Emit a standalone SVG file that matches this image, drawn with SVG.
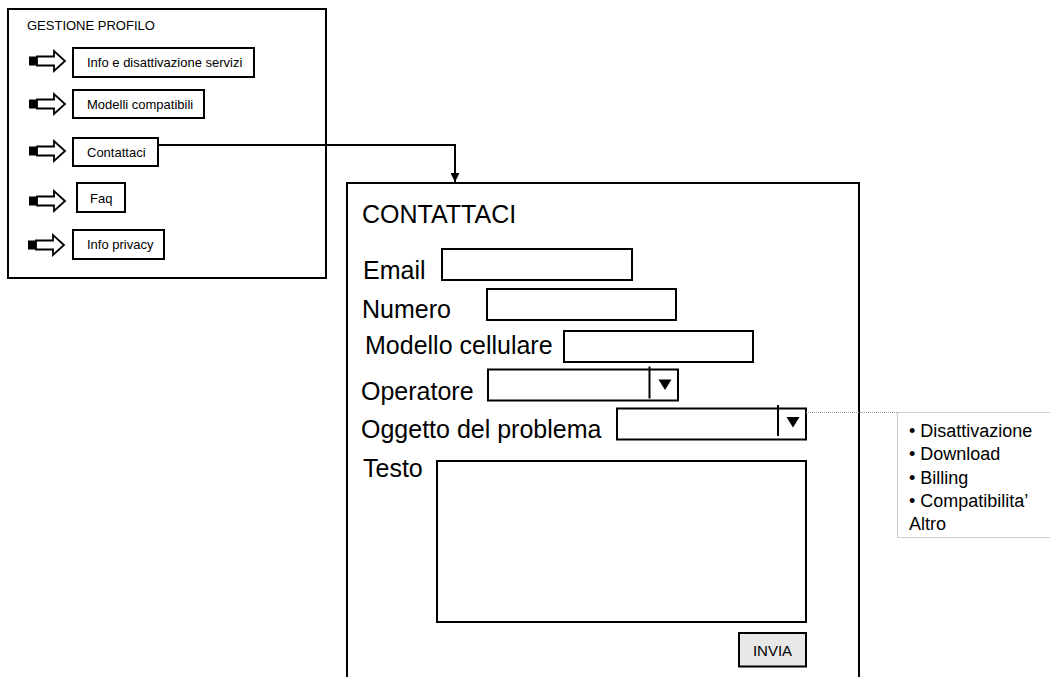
<svg xmlns="http://www.w3.org/2000/svg" width="1050" height="677" viewBox="0 0 1050 677">
<style>
  text { font-family: "Liberation Sans", Arial, sans-serif; fill: #000; }
  .frame { fill: #fff; stroke: #000; stroke-width: 2; }
  .box { fill: #fff; stroke: #000; stroke-width: 2; }
  .btn { font-size: 13px; }
  .lbl { font-size: 25px; }
  .list { font-size: 18px; }
  .dot { fill: none; stroke: #9a9a9a; stroke-width: 1; stroke-dasharray: 1 1; }
  .conn { fill: none; stroke: #000; stroke-width: 2; }
</style>
<defs>
  <g id="blockArrow">
    <rect x="0" y="-4.5" width="8" height="9" fill="#000"/>
    <path d="M8,-4.5 H25 V-10 L36,0 L25,10 V4.5 H8 Z" fill="#fff" stroke="#000" stroke-width="1.8" stroke-linejoin="miter"/>
  </g>
  <marker id="arrowDown" viewBox="0 0 10 10" refX="10" refY="5" markerWidth="4.5" markerHeight="4.5" markerUnits="strokeWidth" orient="auto">
    <path d="M0,0 L10,5 L0,10 Z" fill="#000"/>
  </marker>
  <path id="dropTri" d="M0,0 H13 L6.5,10.5 Z" fill="#000"/>
</defs>

<g id="gestione-profilo">
  <rect class="frame" x="8" y="9" width="318" height="269"/>
  <text x="27" y="30" font-size="13">GESTIONE PROFILO</text>
</g>

<g id="btn-info-servizi">
  <use href="#blockArrow" x="29" y="61"/>
  <rect class="box" x="73" y="48" width="181" height="29"/>
  <text class="btn" x="87" y="67">Info e disattivazione servizi</text>
</g>
<g id="btn-modelli">
  <use href="#blockArrow" x="29" y="104"/>
  <rect class="box" x="73" y="90" width="131" height="28"/>
  <text class="btn" x="87" y="109">Modelli compatibili</text>
</g>
<g id="btn-contattaci">
  <use href="#blockArrow" x="29" y="151"/>
  <rect class="box" x="73" y="138" width="85" height="28"/>
  <text class="btn" x="87" y="157">Contattaci</text>
</g>
<g id="btn-faq">
  <use href="#blockArrow" x="29" y="201"/>
  <rect class="box" x="77" y="183" width="48" height="29"/>
  <text class="btn" x="90" y="203">Faq</text>
</g>
<g id="btn-privacy">
  <use href="#blockArrow" x="28" y="245"/>
  <rect class="box" x="73" y="230" width="91" height="29"/>
  <text class="btn" x="87" y="249">Info privacy</text>
</g>

<g id="form-contattaci">
  <rect class="frame" x="347" y="183" width="512" height="510"/>
  <text x="362" y="223" font-size="25">CONTATTACI</text>

  <text class="lbl" x="363" y="279">Email</text>
  <rect class="box" x="442" y="249" width="190" height="31"/>

  <text class="lbl" x="362" y="318">Numero</text>
  <rect class="box" x="487" y="289" width="189" height="31"/>

  <text class="lbl" x="365" y="354">Modello cellulare</text>
  <rect class="box" x="564" y="331" width="189" height="31"/>

  <text class="lbl" x="361" y="400">Operatore</text>
  <rect class="box" x="488" y="369.5" width="190" height="31"/>
  <line x1="649.5" y1="366.5" x2="649.5" y2="398.5" stroke="#000" stroke-width="2"/>
  <use href="#dropTri" x="658.5" y="379.5"/>

  <text class="lbl" x="361" y="438">Oggetto del problema</text>
  <rect class="box" x="617" y="408.5" width="189" height="31"/>
  <line x1="778" y1="405" x2="778" y2="436" stroke="#000" stroke-width="2"/>
  <use href="#dropTri" x="786.5" y="417"/>

  <text class="lbl" x="363" y="477">Testo</text>
  <rect class="box" x="437" y="461" width="369" height="161"/>

  <rect x="739" y="633" width="67" height="33.5" fill="#e8e8e8" stroke="#000" stroke-width="2"/>
  <text x="772.5" y="655.5" font-size="15" text-anchor="middle">INVIA</text>
</g>

<g id="lista-oggetto">
  <rect class="dot" x="897.5" y="412.5" width="160" height="125"/>
  <text class="list" x="909" y="437">• Disattivazione</text>
  <text class="list" x="909" y="460">• Download</text>
  <text class="list" x="909" y="483.5">• Billing</text>
  <text class="list" x="909" y="507">• Compatibilita’</text>
  <text class="list" x="909" y="530">Altro</text>
</g>

<g id="connectors">
  <path class="conn" d="M158,145 H455 V182" marker-end="url(#arrowDown)"/>
  <line class="dot" x1="806" y1="412.5" x2="897.5" y2="412.5"/>
</g>
</svg>
